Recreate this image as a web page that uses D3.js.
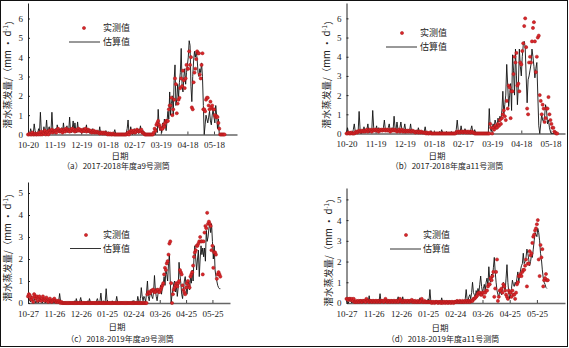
<!DOCTYPE html>
<html>
<head>
<meta charset="utf-8">
<script src="https://cdn.jsdelivr.net/npm/d3@7"></script>
<style>
  body { margin: 0; background: #fff; }
</style>
</head>
<body>
<div id="chart"></div>
<script>
// daily series, index 0 = first day of the season
let startAB = "2017-10-20";
let startCD = "2018-10-27";

let ticksAB = ["2017-10-20", "2017-11-19", "2017-12-19", "2018-01-18", "2018-02-17", "2018-03-19", "2018-04-18", "2018-05-18"];
let ticksCD = ["2018-10-27", "2018-11-26", "2018-12-26", "2019-01-25", "2019-02-24", "2019-03-26", "2019-04-25", "2019-05-25"];

let captions = ["（a）2017-2018年度a9号测筒", "（b）2017-2018年度a11号测筒", "（c）2018-2019年度a9号测筒", "（d）2018-2019年度a11号测筒"];
let legendNames = ["实测值", "估算值"];
let xTitle = "日期";

// a9 2017-2018 estimated
let estA = [
  0,0.1,0.05,0.3,0.1,0,0.05,0.55,0.2,0.05,
  0,0.1,0.3,0.1,1.15,0.2,0.05,0.1,0.4,0.1,
  0.2,0.75,0.1,0.3,0.4,0.1,0.2,1.15,0.3,0.1,
  0.2,0.3,0.1,0.5,0.2,0.1,0.3,0.15,0.35,0.1,
  0.6,0.2,0.1,0.3,0.45,0.1,0.2,0.9,0.2,0.1,
  0.3,0.7,0.15,0.6,0.2,0.1,0.65,0.2,0.15,0.3,
  0.1,0.2,0.1,0.35,0.1,0.2,0.5,0.15,0.1,0.2,
  0.05,0.1,0.15,0.3,0.05,0.1,0.05,0.15,0.1,0.05,
  0.1,0.4,0.05,0.1,0.05,0,0.05,0.1,0.2,0.05,
  0,0.05,0.1,0,0.05,0,0.05,0.1,0.25,0.05,
  0,0.05,0,0,0.05,0,0,0.02,0,0,
  0,0.1,0.3,0.75,0.1,0.05,0.4,0.1,0,0.05,
  0.3,0.1,0.05,0.2,0.1,0.05,0.2,0.45,0.1,0.05,
  0.2,0.1,0,0,0,0,0,0,0,0,
  0,0,0,0.05,0,0.3,0.1,1.3,0.5,0.2,
  0.4,0.1,0.6,0.3,0.8,0.5,0.2,0.7,1.2,0.8,
  2.2,1.0,1.6,2.0,1.0,2.8,3.6,1.5,1.8,2.6,
  1.9,2.7,3.2,4.45,2.5,2.2,3.0,3.4,2.6,3.2,
  3.6,4.0,4.85,4.6,2.5,1.7,3.0,3.8,4.3,4.0,
  4.3,3.9,3.2,3.0,3.4,3.2,3.7,3.0,1.5,0,
  0.5,1.0,0.8,0.6,0.9,1.2,0.7,0.5,1.0,1.3,
  0.9,0.6,1.5,1.0,0.3,0.8,0,0,0,0
];
// a9 2017-2018 measured
let obsA = [
  0,0,0.05,0,0,0.1,0,0,0.05,0,
  0,0.05,0,0.1,0,0.15,0,0.1,0.05,0.2,
  0,0.1,0.15,0,0.2,0.1,0.2,0.25,0.1,0.2,
  0.15,0.2,0.1,0.25,0.3,0.2,0.15,0.2,0.25,0.1,
  0.2,0.25,0.15,0.3,0.2,0.25,0.2,0.15,0.25,0.2,
  0.3,0.2,0.25,0.15,0.2,0.25,0.2,0.3,0.2,0.25,
  0.2,0.15,0.25,0.2,0.2,0.3,0.15,0.2,0.25,0.2,
  0.15,0.2,0.1,0.15,0.2,0.1,0.15,0.1,0.15,0.1,
  0.1,0.05,0.1,0.1,0.05,0.1,0.05,0.1,0.05,0.05,
  0,0.05,0,0.05,0,0,0.05,0,0,0,
  0,0,0,0,0,0,0,0,0,0,
  0,0,0.05,0.1,0,0.15,0.1,0.2,0.1,0.15,
  0.2,0.1,0.15,0.25,0.2,0.15,0.2,0.2,0.25,0.1,
  0.1,0.05,0,0,0,0,0,0,0,0,
  0,0,0.1,0.3,0.2,0.5,0.6,0.7,0.5,0.4,
  0.3,0.3,0.3,0.5,0.4,0.6,0.7,0.7,0.7,1.3,
  1.5,1.5,1.9,1.0,1.3,1.8,2.9,2.6,1.1,1.6,
  1.8,1.9,2.4,2.9,2.5,3.3,2.8,2.4,2.9,3.6,
  3.4,3.4,4.3,3.6,4.0,1.4,1.3,2.7,3.2,3.4,
  3.9,4.3,4.2,4.2,3.1,2.9,3.6,4.2,1.3,1.3,
  1.2,1.8,1.9,1.9,1.5,1.3,1.7,1.4,1.5,1.3,
  1.3,1.0,0.9,0.95,0.9,0.6,0.3,0,0,0,
  0,0,0
];
// a11 2017-2018 estimated
let estB = [
  0,0.3,0.05,0,0.1,0.05,0,0.2,0.5,0.1,
  0,0.05,0.1,1.15,0.2,0,0.1,0.05,0.35,0.1,
  0.05,0.2,0.5,0.1,0.05,0.2,0.1,1.2,0.3,0.1,
  0.2,0.4,0.1,0.3,0.15,0.1,0.2,0.1,0.3,0.7,
  0.2,0.1,0.2,0.3,0.5,0.15,0.1,0.3,0.2,0.9,
  0.3,0.2,0.6,0.2,0.1,0.3,0.6,0.2,0.1,0.2,
  0.5,0.15,0.1,0.2,0.1,0.15,0.5,0.1,0.05,0.1,
  0.05,0.1,0.15,0.05,0.3,0.1,0.05,0.1,0.05,0,
  0.1,0.35,0.05,0,0.05,0,0.05,0.15,0,0,
  0,0.05,0,0,0,0.05,0.1,0,0.2,0.05,
  0,0,0.05,0.1,0,0,0,0.05,0.1,0,
  0,0,0.05,0.2,0.7,0.2,0.1,0.05,0.4,0.1,
  0,0.05,0.25,0.1,0.05,0,0.1,0.05,0.2,0.4,
  0.1,0.05,0.2,0.05,0,0,0,0,0,0,
  0,0,0,0,0,0,0,1.3,0.3,0.1,
  0.3,0.5,0.3,0.7,0.5,0.4,0.8,0.6,0.9,0.7,
  1.2,2.2,1.0,1.5,2.0,3.6,2.5,1.4,2.0,2.6,
  1.2,4.1,3.3,2.0,4.4,3.0,1.5,2.5,4.4,3.5,
  3.0,4.0,4.6,4.8,4.5,3.0,1.6,2.8,3.0,3.3,
  3.6,4.4,4.0,3.5,2.9,3.4,3.7,2.0,0.4,0,
  0.5,1.0,0.7,0.6,0.9,1.5,1.2,0.5,0.7,0.3,
  0.1,0,0,0,0,0,0,0
];
// a11 2017-2018 measured
let obsB = [
  0,0,0.05,0,0,0.05,0,0,0,0.05,
  0.1,0.05,0.1,0.15,0.1,0.1,0.15,0.1,0.15,0.1,
  0.15,0.2,0.1,0.15,0.2,0.15,0.1,0.2,0.15,0.2,
  0.15,0.2,0.15,0.1,0.2,0.15,0.2,0.15,0.2,0.2,
  0.15,0.2,0.15,0.2,0.15,0.1,0.2,0.15,0.2,0.15,
  0.2,0.15,0.1,0.15,0.2,0.1,0.15,0.2,0.1,0.15,
  0.1,0.15,0.1,0.15,0.1,0.15,0.1,0.1,0.15,0.1,
  0.1,0.05,0.1,0.1,0.05,0.1,0.05,0.1,0.05,0.05,
  0.05,0.05,0,0.05,0,0,0.05,0,0,0,
  0,0,0,0,0,0,0,0,0,0,
  0,0,0,0,0,0,0,0,0,0,
  0,0,0,0.05,0.1,0.05,0.1,0.05,0.1,0.1,
  0.05,0.1,0.1,0.05,0.1,0.05,0.1,0.05,0.05,0.1,
  0.05,0.05,0,0,0,0,0,0,0,0,
  0,0,0,0,0,0,0,0,0.5,0.3,
  0,0.3,0.2,0.4,0.3,0.3,0.5,0.4,0.7,0.5,
  0.8,1.0,1.2,0.9,0.7,1.7,1.3,2.5,2.4,0.8,
  2.2,2.2,3.1,4.0,3.7,4.2,2.5,2.6,2.2,3.7,
  3.6,4.3,4.7,5.6,6.0,4.5,1.3,1.0,3.7,4.0,
  3.7,4.8,5.5,5.8,4.8,3.2,4.0,5.0,5.1,2.0,
  1.7,1.0,1.5,1.3,0.6,0.8,1.3,1.3,1.9,1.0,
  0.7,0.5,0.3,0.3,0.1,0.05,0,0
];
// a9 2018-2019 estimated
let estC = [
  0.3,0.2,0.1,0.05,0.3,0.1,0,0.2,0.1,0,
  0.1,0.05,0,0.1,0.2,0.1,0,0.05,0.1,0.05,
  0,0.1,0.05,0,0.1,0,0.05,0.1,0,0.05,
  0,0.05,0,0.1,0.05,0.1,0.43,0.1,0,0.05,
  0,0,0.05,0,0,0,0,0.05,0,0,
  0,0.05,0,0.1,0,0.2,0.05,0,0,0.1,
  0.25,0.05,0,0,0,0,0,0.05,0.1,0,
  0.2,0.05,0,0,0,0,0.05,0,0.1,0.2,
  0.05,0,0.1,0.45,0.05,0,0.1,0,0.1,0.65,
  0.1,0,0,0.05,0,0,0.1,0,0,0,
  0.05,0.3,0.05,0,0,0,0,0.05,0,0,
  0,0,0,0.05,0,0,0,0,0,0.1,
  0,0,0.05,0,0,0.3,0.1,0,0.2,0.7,
  0.3,0.1,0.3,0.2,0.05,0.5,1.0,0.3,0.1,0.4,
  0.5,0.3,0.2,0.5,1.25,0.6,0.3,0.1,0.4,0.6,
  0.5,0.8,0.4,0.7,0.9,1.2,0.8,1.5,1.3,1.0,
  1.8,2.2,1.0,0,0.4,0.6,0.9,1.0,0.5,0.8,
  0.3,0.7,1.85,1.3,0.9,0.4,0.2,0.6,1.0,1.2,
  0.8,0.4,0.7,1.0,0.6,1.2,0.9,1.5,1.0,2.1,
  2.6,2.0,1.5,2.0,2.4,1.2,2.0,2.6,2.2,2.5,
  2.1,2.5,1.9,3.3,2.8,3.0,3.4,3.6,3.2,3.6,
  2.8,2.0,2.6,1.5,1.2,1.0,0.8,0.7,0.65,0.65
];
// a9 2018-2019 measured
let obsC = [
  0.3,0.4,0.35,0.2,0.15,0.25,0.05,0.4,0.3,0.2,
  0.3,0.1,0.25,0.3,0.15,0.1,0.2,0.3,0.15,0.1,
  0.2,0.25,0.1,0.05,0.15,0.2,0.1,0.05,0.1,0.15,
  0.2,0.1,0.05,0.1,0.05,0.1,0.05,0,0.05,0,
  0,0,0,0,0,0,0,0,0,0,
  0,0,0,0,0,0,0,0,0,0,
  0,0,0,0,0,0,0,0,0,0,
  0,0,0,0,0,0,0,0,0,0,
  0,0,0,0,0,0,0,0,0,0,
  0,0,0,0,0,0,0,0,0,0,
  0,0,0,0,0,0,0,0,0,0,
  0,0,0,0,0,0,0,0,0,0,
  0,0,0,0,0,0,0,0,0,0,
  0,0,0,0,0,0,0.4,0.5,0.45,0.45,
  0.55,0.55,0.6,0.6,0.5,0.5,0.55,0.6,0.6,0.5,
  0.5,0.6,0.7,0.8,0.9,1.3,1.6,1.5,1.8,1.9,
  2.2,2.7,2.8,0.9,0,0.4,0.6,0.7,0.8,0.9,
  0.75,0.9,1.0,1.5,1.4,1.3,0.8,0.6,0.5,0.4,
  0.7,0.9,1.0,0.8,0.7,1.2,1.3,1.4,1.7,2.1,
  2.3,2.4,2.6,2.6,2.7,2.8,3.0,2.8,2.8,1.3,
  2.8,3.2,3.5,3.4,4.1,3.6,3.7,3.6,3.5,2.4,
  2.6,1.6,2.3,2.3,2.2,1.1,1.3,1.4,1.3,1.2
];
// a11 2018-2019 estimated
let estD = [
  0.1,0.05,0,0.1,0.25,0.05,0,0.1,0.05,0,
  0.05,0.1,0,0.05,0.15,0.05,0,0.1,0,0.05,
  0.1,0,0.05,0.1,0.05,0.35,0.05,0,0.1,0.05,
  0,0.05,0.1,0,0.05,0.15,0.1,0.45,0.1,0.05,
  0,0.05,0.1,0,0.05,0,0.1,0.05,0,0.05,
  0,0.1,0.05,0,0.1,0.05,0.15,0.3,0.05,0,
  0.1,0.05,0.3,0.1,0,0.05,0.1,0,0.05,0,
  0.05,0.1,0,0.15,0.05,0,0.05,0,0.1,0.05,
  0,0.25,0.05,0,0.05,0.1,0,0.05,0.1,0,
  0.2,0.1,0.65,0.1,0,0.05,0,0.05,0,0,
  0.05,0,0,0.1,0.05,0.25,0.05,0,0,0.05,
  0,0,0.05,0,0,0,0,0.05,0,0,
  0,0.1,0.05,0,0,0,0.05,0,0,0.1,
  0.05,0.2,0.65,0.2,0.1,0.3,0.4,0.2,0.5,1.0,
  0.5,0.4,0.3,0.6,0.4,0.7,0.5,0.9,1.3,0.8,
  0.5,0.7,0.9,0.6,1.0,1.2,0.8,1.75,1.1,1.0,
  1.4,1.2,1.7,2.2,1.5,1.0,0.6,0.4,0.3,0.6,
  0.5,0.4,0.7,1.0,0.8,0.6,1.2,1.85,1.0,0.5,
  0.2,0.4,0.7,1.1,0.9,0.8,1.0,0.9,1.2,1.5,
  1.0,1.3,1.6,1.8,1.9,2.4,1.9,2.0,2.2,2.6,
  2.4,2.1,1.8,2.0,2.3,2.2,2.6,3.0,3.4,3.3,
  3.2,3.6,3.4,3.0,2.4,2.1,1.6,1.2,1.0,0.9,
  0.75,0.7
];
// a11 2018-2019 measured
let obsD = [
  0.2,0.2,0.15,0.2,0.2,0.15,0.2,0.1,0.2,0.05,
  0.05,0.1,0.05,0.1,0.05,0.1,0.1,0.05,0.1,0.1,
  0.1,0.05,0.2,0.1,0.1,0.05,0.1,0.1,0.05,0.1,
  0.1,0.05,0.1,0.1,0.05,0.1,0.1,0.05,0.1,0.1,
  0.1,0.05,0.1,0.2,0.1,0.05,0.1,0.1,0.05,0.1,
  0.1,0.05,0.1,0.1,0.05,0.1,0.1,0.05,0.1,0.2,
  0.1,0.05,0.1,0.05,0.1,0.1,0.05,0.1,0.1,0.05,
  0.1,0.1,0.15,0.05,0.1,0.05,0.1,0.05,0.05,0.1,
  0.05,0.05,0.1,0.2,0.05,0.05,0.1,0.05,0.05,0.05,
  0.05,0.05,0.05,0.05,0,0.05,0.05,0,0.05,0.05,
  0.05,0,0.05,0.05,0,0.05,0,0.05,0.05,0,
  0.05,0.05,0,0.05,0.05,0,0.05,0.05,0,0.05,
  0.05,0.05,0.1,0.05,0.05,0.1,0.05,0.05,0.1,0.05,
  0.05,0.1,0.05,0.1,0.05,0.1,0.05,0.1,0.1,0.1,
  0.2,0.2,0.25,0.3,0.35,0.45,0.5,0.5,0.4,0.4,
  0.5,0.5,0.3,0.5,0.6,0.6,0.8,0.9,0.9,1.2,
  1.1,1.3,1.5,0.3,0.7,1.5,2.1,0.1,0.3,0.6,
  0.6,0.7,0.5,0.9,0.8,0.6,0.4,0.3,0.2,0.6,
  0.5,0.5,0.3,0.6,0.4,0.4,0.2,0.5,0.9,1.0,
  1.3,1.3,1.4,1.3,1.5,1.6,1.6,1.8,2.1,0.8,
  1.9,1.9,2.5,2.3,2.4,2.9,3.2,3.3,3.5,3.6,
  3.8,4.0,2.1,1.3,2.8,2.2,2.6,0.8,1.1,1.2,
  1.4,1.1,1.1
];

let serif = '"Liberation Serif", "Times New Roman", serif';
let cjk = '"Noto Sans CJK SC", sans-serif';
let red = "#d9262b", redEdge = "#a51616";

let parseDay = d3.utcParse("%Y-%m-%d");
let fmtDay = d3.utcFormat("%m-%d");

let svg = d3.select("#chart").append("svg")
    .attr("width", 569).attr("height", 348);

// outer frame
svg.append("rect").attr("x", 0.5).attr("y", 0.5)
    .attr("width", 567).attr("height", 346)
    .attr("fill", "none").attr("stroke", "#111");

let panels = [
    { start: startAB, ticks: ticksAB, est: estA, obs: obsA, span: 236, x0: 28, x1: 237, y0: 134.5, y1: 3, ymax: 6.8, yticks: [0, 1, 2, 3, 4, 5, 6],
      cap: captions[0], capX: 116, capY: 166.5, titleX: 120, titleY: 156.5, labX: 8, labY: 72,
      leg: { dotX: 84, dotY: 28, lx0: 69, lx1: 100, lineY: 42, tx: 103 } },
    { start: startAB, ticks: ticksAB, est: estB, obs: obsB, span: 225, x0: 346.5, x1: 565, y0: 133.5, y1: 3, ymax: 6.8, yticks: [0, 1, 2, 3, 4, 5, 6],
      cap: captions[1], capX: 447, capY: 166.5, titleX: 437, titleY: 156, labX: 327, labY: 72,
      leg: { dotX: 402, dotY: 33, lx0: 386, lx1: 417, lineY: 47, tx: 420 } },
    { start: startCD, ticks: ticksCD, est: estC, obs: obsC, span: 230, x0: 28, x1: 230, y0: 303, y1: 182, ymax: 5.5, yticks: [0, 1, 2, 3, 4, 5],
      cap: captions[2], capX: 120, capY: 339.5, titleX: 117, titleY: 327.5, labX: 8, labY: 245,
      leg: { dotX: 86, dotY: 235, lx0: 70, lx1: 101, lineY: 248.5, tx: 103 } },
    { start: startCD, ticks: ticksCD, est: estD, obs: obsD, span: 241, x0: 346.5, x1: 565, y0: 303, y1: 188, ymax: 5.55, yticks: [0, 1, 2, 3, 4, 5],
      cap: captions[3], capX: 443, capY: 339.5, titleX: 440, titleY: 328, labX: 329, labY: 250,
      leg: { dotX: 406, dotY: 235, lx0: 390, lx1: 421, lineY: 249, tx: 423 } }
];

panels.forEach(drawPanel);

function drawPanel(p) {
    let g = svg.append("g");
    let start = parseDay(p.start);
    let day = i => d3.utcDay.offset(start, i);

    let x = d3.scaleUtc().domain([start, day(p.span)]).range([p.x0, p.x1]);
    let y = d3.scaleLinear().domain([0, p.ymax]).range([p.y0, p.y1]);

    let xAxis = g.append("g").attr("transform", `translate(0,${p.y0})`)
        .call(d3.axisBottom(x).tickValues(p.ticks.map(parseDay)).tickFormat(fmtDay)
            .tickSizeInner(-3).tickSizeOuter(0).tickPadding(7.5));
    xAxis.select(".domain").attr("stroke", "#666").attr("stroke-width", 1.4);
    xAxis.selectAll(".tick line").attr("stroke", "#444");
    xAxis.selectAll("text").attr("font-size", 9).attr("font-family", serif).attr("fill", "#222");

    let yAxis = g.append("g").attr("transform", `translate(${p.x0},0)`)
        .call(d3.axisLeft(y).tickValues(p.yticks).tickFormat(d3.format("d"))
            .tickSizeInner(-2).tickSizeOuter(0).tickPadding(5));
    yAxis.select(".domain").attr("stroke", "#222");
    yAxis.selectAll(".tick line").attr("stroke", "#222");
    yAxis.selectAll("text").attr("font-size", 9).attr("font-family", serif).attr("fill", "#222");

    // estimated line
    g.append("path").datum(p.est)
        .attr("d", d3.line().x((d, i) => x(day(i))).y(d => y(d)))
        .attr("fill", "none").attr("stroke", "#111").attr("stroke-width", 0.9)
        .attr("stroke-linejoin", "round");

    // measured points
    g.selectAll(".obs").data(p.obs.map((v, i) => [i, v]).filter(d => d[1] != null))
        .join("circle").attr("class", "obs")
        .attr("cx", d => x(day(d[0]))).attr("cy", d => y(d[1]))
        .attr("r", 1.6).attr("fill", red).attr("stroke", redEdge).attr("stroke-width", 0.5);

    // legend
    let L = p.leg;
    g.append("circle").attr("cx", L.dotX).attr("cy", L.dotY).attr("r", 1.6)
        .attr("fill", red).attr("stroke", redEdge).attr("stroke-width", 0.5);
    g.append("line").attr("x1", L.lx0).attr("x2", L.lx1).attr("y1", L.lineY).attr("y2", L.lineY)
        .attr("stroke", "#333").attr("stroke-width", 1);
    g.selectAll(".legtxt").data(legendNames).join("text").attr("class", "legtxt")
        .attr("x", L.tx).attr("y", (d, i) => i ? L.lineY : L.dotY).attr("dy", "0.35em")
        .attr("font-family", cjk).attr("font-size", 9).attr("fill", "#222").text(d => d);

    // axis titles and caption
    g.append("text").attr("x", p.titleX).attr("y", p.titleY).attr("dy", "0.35em")
        .attr("font-family", cjk).attr("fill", "#222")
        .attr("text-anchor", "middle").attr("font-size", 8.5).text(xTitle);

    let ylab = g.append("text")
        .attr("transform", `translate(${p.labX},${p.labY}) rotate(-90)`)
        .attr("font-family", cjk).attr("fill", "#222")
        .attr("text-anchor", "middle").attr("dy", "0.35em").attr("font-size", 9.5);
    ylab.append("tspan").text("潜水蒸发量/（mm • d");
    ylab.append("tspan").attr("font-size", 6).attr("dy", "-0.6em").text("-1");
    ylab.append("tspan").attr("dy", "0.6em").text("）");

    g.append("text").attr("x", p.capX).attr("y", p.capY).attr("dy", "0.35em")
        .attr("font-family", cjk).attr("fill", "#222")
        .attr("text-anchor", "middle").attr("font-size", 8).text(p.cap);
}
</script>
</body>
</html>
